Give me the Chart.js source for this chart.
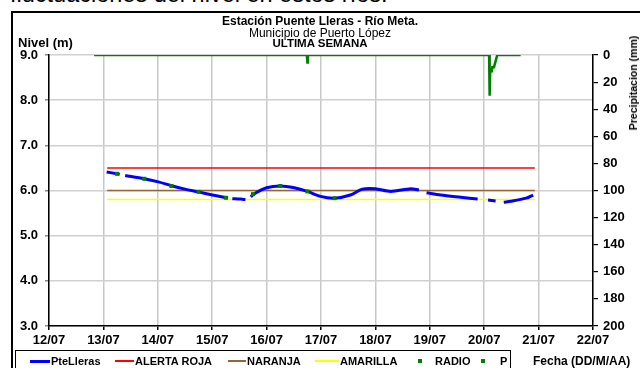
<!DOCTYPE html>
<html>
<head>
<meta charset="utf-8">
<script src="https://cdn.jsdelivr.net/npm/chart.js"></script>
<style>
  html,body{margin:0;padding:0;background:#fff;}
  body{width:640px;height:368px;position:relative;overflow:hidden;font-family:"Liberation Sans",Arial,sans-serif;color:#000;}
  .abs{position:absolute;white-space:nowrap;}
  #frame{position:absolute;left:11px;top:11px;width:700px;height:400px;border-top:2px solid #000;border-left:2px solid #000;}
  #legendBox{position:absolute;left:15px;top:350px;width:494px;height:40px;border:1px solid #000;}
  .lg{position:absolute;top:355px;font-weight:bold;font-size:11px;line-height:12px;}
  canvas{position:absolute;left:0;top:0;}
</style>
</head>
<body>
<div class="abs" style="left:10px;top:-17px;font-size:23.5px;line-height:23.5px;">fluctuaciones del nivel en estos ríos.</div>
<div id="frame"></div>
<canvas id="c" width="640" height="368"></canvas>
<div class="abs" style="left:0;width:640px;top:14px;text-align:center;font-weight:bold;font-size:12px;line-height:14px;">Estación Puente Lleras - Río Meta.</div>
<div class="abs" style="left:0;width:640px;top:27px;text-align:center;font-size:12px;line-height:13px;">Municipio de Puerto López</div>
<div class="abs" style="left:0;width:640px;top:37px;text-align:center;font-weight:bold;font-size:11.5px;line-height:13px;">ULTIMA SEMANA</div>
<div class="abs" style="left:18px;top:35px;font-weight:bold;font-size:13px;line-height:15px;">Nivel (m)</div>
<div class="abs" style="left:533px;top:354px;font-weight:bold;font-size:12px;line-height:14px;">Fecha (DD/M/AA)</div>
<div class="abs" style="left:633px;top:83px;font-weight:bold;font-size:10.5px;line-height:12px;transform:translate(-50%,-50%) rotate(-90deg);">Precipitacion (mm)</div>
<div id="legendBox"></div>
<div id="legend"></div>
<script>
// ---- data ----
const dateLabels = ['12/07','13/07','14/07','15/07','16/07','17/07','18/07','19/07','20/07','21/07','22/07'];
// level (m) — time in days after 12/07 00:00; null = gap in record
const levelDays = [1.06,1.25,1.30,1.33,1.40,1.75,2.01,2.27,2.50,2.74,3.00,3.26,3.29,3.33,3.37,3.52,3.61,3.66,3.71,3.76,4.00,4.25,4.51,4.75,4.99,5.25,5.54,5.76,6.00,6.28,6.65,6.80,6.89,6.94,7.20,7.57,7.88,7.97,8.07,8.21,8.29,8.36,8.49,8.77,8.90];
const levelValues = [6.41,6.37,6.36,null,6.33,6.26,6.19,6.10,6.03,5.97,5.90,5.84,5.83,null,5.82,5.81,5.80,null,5.86,5.92,6.06,6.10,6.06,5.98,5.87,5.83,5.90,6.03,6.04,5.98,6.04,6.01,null,5.95,5.90,5.85,5.81,null,5.79,5.77,null,5.74,5.76,5.83,5.90];
const radioDays = [1.25,1.75,2.25,2.75,3.25,3.75,4.25,4.75,5.25];
const radioValues = [6.37,6.26,6.10,5.97,5.84,5.92,6.10,5.98,5.83];
const alertSpan = [1.07,8.93];
const alertaRoja = 6.5;
const alertaNaranja = 6.0;
const alertaAmarilla = 5.8;
const precipDays = [0.83,4.74,4.75,4.76,8.09,8.10,8.11,8.14,8.15,8.18,8.22,8.24,8.67];
const precipMm = [0,0,5.5,0,0,30,12,12,9,9,3,0,0];

// ---- chart ----
Chart.defaults.font.family = '"Liberation Sans", Arial, sans-serif';
Chart.defaults.color = '#000';
const pts = (xs, ys) => xs.map((x, i) => ({x: x, y: ys[i]}));
const flat = v => alertSpan.map(x => ({x: x, y: v}));

const datasets = [
  {label:'PteLleras', data: pts(levelDays, levelValues), borderColor:'#0000ff', backgroundColor:'#0000ff', borderWidth:3, pointRadius:0, tension:0.3, spanGaps:false, yAxisID:'y', order:1, lg:'line'},
  {label:'ALERTA ROJA', data: flat(alertaRoja), borderColor:'#ff0000', backgroundColor:'#ff0000', borderWidth:1.5, pointRadius:0, yAxisID:'y', order:2, lg:'line'},
  {label:'NARANJA', data: flat(alertaNaranja), borderColor:'#996633', backgroundColor:'#996633', borderWidth:1.5, pointRadius:0, yAxisID:'y', order:3, lg:'line'},
  {label:'AMARILLA', data: flat(alertaAmarilla), borderColor:'#ffff00', backgroundColor:'#ffff00', borderWidth:1.5, pointRadius:0, yAxisID:'y', order:4, lg:'line'},
  {label:'RADIO', data: pts(radioDays, radioValues), borderColor:'#008000', backgroundColor:'#008000', showLine:false, pointRadius:2.8, pointStyle:'rect', pointBorderWidth:0, yAxisID:'y', order:0, lg:'dot'},
  {label:'P', data: pts(precipDays, precipMm), borderColor:'#008000', backgroundColor:'#008000', borderWidth:2.5, pointRadius:0, tension:0, yAxisID:'y2', order:5, lg:'dot'}
];

const chart = new Chart(document.getElementById('c'), {
  type:'line',
  data:{datasets: datasets},
  options:{
    responsive:false, animation:false, devicePixelRatio:1,
    layout:{padding:{top:55,left:0,right:0,bottom:0}},
    plugins:{legend:{display:false}, tooltip:{enabled:false}, title:{display:false}},
    scales:{
      x:{type:'linear', min:0, max:10,
        ticks:{stepSize:1, autoSkip:false, maxRotation:0, padding:3, font:{size:13, weight:'bold'}, color:'#000',
          callback:(v)=>dateLabels[Math.round(v)]},
        grid:{color:'#c8c8c8', lineWidth:1.5, tickColor:'#000', tickLength:4},
        border:{color:'#000', width:1.5},
        afterFit:(s)=>{s.height = 42;}
      },
      y:{position:'left', min:3, max:9,
        ticks:{stepSize:1, padding:7, font:{size:13, weight:'bold'}, color:'#000', callback:(v)=>Number(v).toFixed(1)},
        grid:{color:'#d0d0d0', lineWidth:1.5, tickColor:'#888', tickLength:4},
        border:{color:'#000', width:1.5},
        afterFit:(s)=>{s.width = 49;}
      },
      y2:{position:'right', reverse:true, min:0, max:200,
        ticks:{stepSize:20, padding:5, font:{size:13, weight:'bold'}, color:'#000'},
        grid:{drawOnChartArea:false, tickColor:'#000', tickLength:5, lineWidth:1.2},
        border:{color:'#000', width:1.5},
        afterFit:(s)=>{s.width = 47;}
      }
    }
  }
});

// ---- HTML legend built from the datasets ----
const legendPos = [[30,51],[115,135],[228,247],[315,340],[420,435],[483,500]];
const lgEl = document.getElementById('legend');
chart.data.datasets.forEach((d, i) => {
  const [mx, tx] = legendPos[i];
  const m = document.createElement('div');
  m.style.position = 'absolute';
  if (d.lg === 'line') {
    m.style.left = mx + 'px'; m.style.top = '360px';
    m.style.width = (tx - mx - 1) + 'px';
    m.style.height = (d.label === 'PteLleras' ? 3 : 1.5) + 'px';
  } else {
    m.style.left = (mx - 2) + 'px'; m.style.top = '359px';
    m.style.width = '4px'; m.style.height = '4px';
  }
  m.style.background = d.borderColor;
  lgEl.appendChild(m);
  const t = document.createElement('div');
  t.className = 'lg';
  t.style.left = tx + 'px';
  t.textContent = d.label;
  lgEl.appendChild(t);
});
</script>
</body>
</html>
